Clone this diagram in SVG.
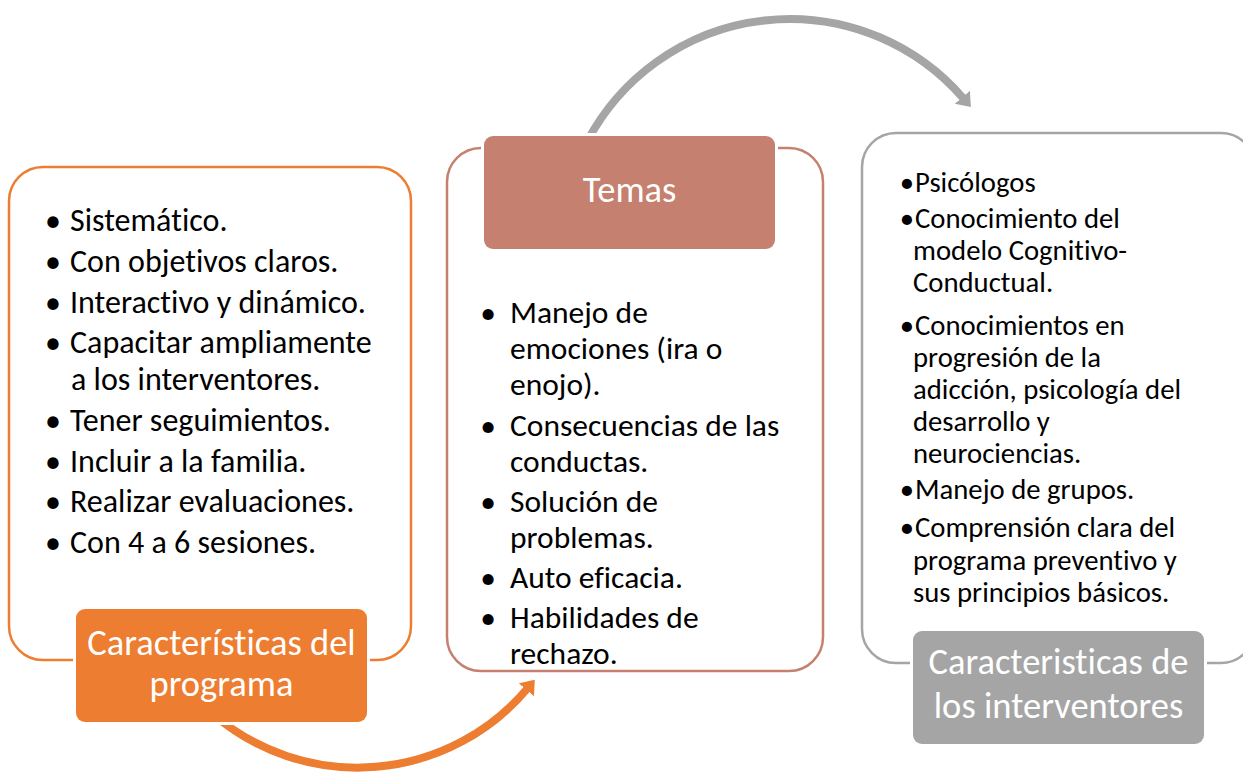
<svg xmlns="http://www.w3.org/2000/svg" width="1243" height="777" viewBox="0 0 1243 777">
<style>
.txt{font-family:Carlito,"Liberation Sans",sans-serif;fill:#000000;font-variant-ligatures:none;font-feature-settings:"liga" 0,"clig" 0,"dlig" 0,"calt" 0;letter-spacing:0.01px}
.lbl{font-family:Carlito,"Liberation Sans",sans-serif;fill:#ffffff;text-anchor:middle;font-size:36.5px;font-variant-ligatures:none;font-feature-settings:"liga" 0,"clig" 0,"dlig" 0,"calt" 0;letter-spacing:0.01px}
.b{text-anchor:middle}
.outer{fill:#ffffff;stroke-width:2.5}
.head{stroke:#ffffff;stroke-width:6;paint-order:stroke fill}
.conn{fill:none;stroke-width:8}
</style>
<defs>
<marker id="ahGray" markerUnits="userSpaceOnUse" markerWidth="20" markerHeight="22" refX="1" refY="10" orient="auto">
<path d="M0,0 L13,10 L0,20 z" fill="#A5A5A5"/>
</marker>
<marker id="ahOrange" markerUnits="userSpaceOnUse" markerWidth="20" markerHeight="22" refX="1" refY="10" orient="auto">
<path d="M0,0 L13,10 L0,20 z" fill="#ED7D31"/>
</marker>
</defs>
<g id="connectors">
<path class="conn" stroke="#A5A5A5" d="M588 140 A229 229 0 0 1 963 98" marker-end="url(#ahGray)"/>
<path class="conn" stroke="#ED7D31" d="M214 715 A222 222 0 0 0 527 689" marker-end="url(#ahOrange)"/>
</g>
<g id="node-programa">
<rect class="outer" x="9" y="167" width="402" height="493" rx="34" ry="34" stroke="#ED7D31"/>
<text class="txt" font-size="32">
<tspan class="b" x="53" y="231">•</tspan><tspan x="70" y="231">Sistemático.</tspan>
<tspan class="b" x="53" y="272">•</tspan><tspan x="70" y="272">Con objetivos claros.</tspan>
<tspan class="b" x="53" y="313">•</tspan><tspan x="70" y="313">Interactivo y dinámico.</tspan>
<tspan class="b" x="53" y="353">•</tspan><tspan x="70" y="353">Capacitar ampliamente</tspan>
<tspan x="71" y="390">a los interventores.</tspan>
<tspan class="b" x="53" y="431">•</tspan><tspan x="70" y="431">Tener seguimientos.</tspan>
<tspan class="b" x="53" y="472">•</tspan><tspan x="70" y="472">Incluir a la familia.</tspan>
<tspan class="b" x="53" y="512">•</tspan><tspan x="70" y="512">Realizar evaluaciones.</tspan>
<tspan class="b" x="53" y="553">•</tspan><tspan x="70" y="553">Con 4 a 6 sesiones.</tspan>
</text>
<rect class="head" x="76" y="609" width="291" height="113" rx="9" ry="9" fill="#ED7D31"/>
<text class="lbl"><tspan x="221.5" y="655">Características del</tspan><tspan x="221.5" y="696">programa</tspan></text>
</g>
<g id="node-temas">
<rect class="outer" x="447" y="148" width="376" height="523" rx="34" ry="34" stroke="#C5806F"/>
<text class="txt" font-size="31.5">
<tspan class="b" x="488" y="323">•</tspan><tspan x="510" y="323">Manejo de</tspan>
<tspan x="510" y="359">emociones (ira o</tspan>
<tspan x="510" y="395">enojo).</tspan>
<tspan class="b" x="488" y="436">•</tspan><tspan x="510" y="436">Consecuencias de las</tspan>
<tspan x="510" y="472">conductas.</tspan>
<tspan class="b" x="488" y="512">•</tspan><tspan x="510" y="512">Solución de</tspan>
<tspan x="510" y="548">problemas.</tspan>
<tspan class="b" x="488" y="588">•</tspan><tspan x="510" y="588">Auto eficacia.</tspan>
<tspan class="b" x="488" y="628">•</tspan><tspan x="510" y="628">Habilidades de</tspan>
<tspan x="510" y="664">rechazo.</tspan>
</text>
<rect class="head" x="484" y="136" width="291" height="113" rx="9" ry="9" fill="#C5806F"/>
<text class="lbl"><tspan x="629.5" y="202">Temas</tspan></text>
</g>
<g id="node-interventores">
<rect class="outer" x="862" y="133" width="393" height="530" rx="34" ry="34" stroke="#A5A5A5"/>
<text class="txt" font-size="28.7">
<tspan class="b" x="907" y="192">•</tspan><tspan x="915" y="192">Psicólogos</tspan>
<tspan class="b" x="907" y="228">•</tspan><tspan x="915" y="228">Conocimiento del</tspan>
<tspan x="913" y="260">modelo Cognitivo-</tspan>
<tspan x="913" y="292">Conductual.</tspan>
<tspan class="b" x="907" y="335">•</tspan><tspan x="915" y="335">Conocimientos en</tspan>
<tspan x="913" y="367">progresión de la</tspan>
<tspan x="913" y="399">adicción, psicología del</tspan>
<tspan x="913" y="431">desarrollo y</tspan>
<tspan x="913" y="463">neurociencias.</tspan>
<tspan class="b" x="907" y="499">•</tspan><tspan x="915" y="499">Manejo de grupos.</tspan>
<tspan class="b" x="907" y="537">•</tspan><tspan x="915" y="537">Comprensión clara del</tspan>
<tspan x="913" y="570">programa preventivo y</tspan>
<tspan x="913" y="602">sus principios básicos.</tspan>
</text>
<rect class="head" x="913" y="631" width="291" height="113" rx="9" ry="9" fill="#A5A5A5"/>
<text class="lbl"><tspan x="1058.5" y="674">Caracteristicas de</tspan><tspan x="1058.5" y="718">los interventores</tspan></text>
</g>
</svg>
